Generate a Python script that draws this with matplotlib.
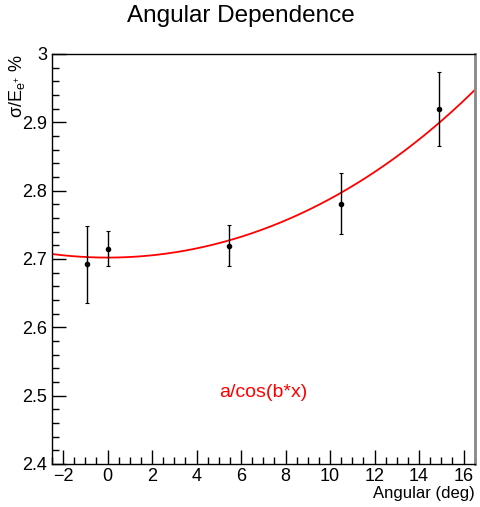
import numpy as np
import matplotlib.pyplot as plt
from matplotlib.ticker import MultipleLocator, FuncFormatter

plt.rcParams['font.family'] = ['Liberation Sans', 'DejaVu Sans']
plt.rcParams['mathtext.fontset'] = 'custom'
plt.rcParams['mathtext.rm'] = 'Liberation Sans'
plt.rcParams['mathtext.it'] = 'Liberation Sans'

# Messpunkte
angle = [-0.93, 0.0, 5.45, 10.48, 14.88]
sigma = [2.692, 2.715, 2.719, 2.781, 2.919]
sigma_err = [0.056, 0.026, 0.030, 0.045, 0.054]

# Fitparameter a/cos(b*x)
a_fit = 2.702
b_fit = 0.0249

fig = plt.figure(figsize=(4.81, 5.07), dpi=100)
ax = fig.add_axes([0.108, 0.085, 0.879, 0.8085])

xf = np.linspace(-2.5, 16.5, 400)
ax.plot(xf, a_fit / np.cos(b_fit * xf), color='red', lw=1.3)

ax.errorbar(angle, sigma, yerr=sigma_err, fmt='o', color='black', ms=3,
            elinewidth=1.0, capsize=1.5, capthick=0.8)

ax.text(7.0, 2.505, 'a/cos(b*x)', color='red', fontsize=14, ha='center', va='center')

ax.set_xlim(-2.5, 16.5)
ax.set_ylim(2.4, 3.0)
ax.xaxis.set_major_locator(MultipleLocator(2))
ax.xaxis.set_minor_locator(MultipleLocator(0.5))
ax.yaxis.set_major_locator(MultipleLocator(0.1))
ax.yaxis.set_minor_locator(MultipleLocator(0.02))
ax.yaxis.set_major_formatter(FuncFormatter(lambda v, p: '%g' % round(v, 2)))
ax.tick_params(which='major', direction='in', length=10, width=1, labelsize=13)
ax.tick_params(which='minor', direction='in', length=5, width=1)
ax.tick_params(axis='x', pad=3)
for s in ax.spines.values():
    s.set_linewidth(1.0)
ax.spines['right'].set_color('#888888')
ax.spines['right'].set_linewidth(2.0)

ax.set_xlabel('Angular (deg)', fontsize=12, loc='right', labelpad=1)
ax.set_ylabel(r'$\mathrm{\sigma/E_{e^{+}}}$ %', fontsize=13, loc='top')
ax.yaxis.set_label_coords(-0.058, 1.0)
fig.suptitle('Angular Dependence', fontsize=17.5, y=0.99)

plt.savefig('out.png', dpi=100)
